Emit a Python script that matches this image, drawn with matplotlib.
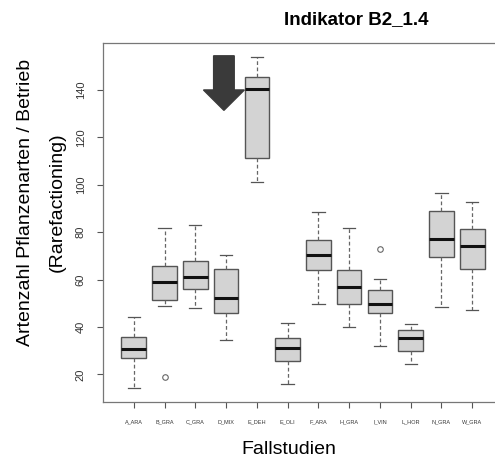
import numpy as np
import matplotlib
matplotlib.use('Agg')
import matplotlib.pyplot as plt

plt.rcParams['font.family'] = ['Liberation Sans', 'DejaVu Sans']

# Fallstudien und Boxplot-Kennwerte
labels = ['A_ARA', 'B_GRA', 'C_GRA', 'D_MIX', 'E_DEH', 'E_OLI',
          'F_ARA', 'H_GRA', 'I_VIN', 'L_HOR', 'N_GRA', 'W_GRA']
whislo = [14.5, 48.8, 48.2, 34.5, 101.1, 15.9, 49.9, 40.0, 31.9, 24.5, 48.4, 47.2]
q1 = [27.1, 51.6, 56.0, 45.8, 111.5, 25.9, 64.2, 49.9, 46.0, 30.0, 69.4, 64.5]
med = [30.9, 58.8, 61.2, 52.2, 140.4, 31.1, 70.2, 56.8, 49.9, 35.2, 77.0, 74.2]
q3 = [35.7, 65.9, 67.8, 64.5, 145.6, 35.2, 76.7, 64.2, 55.6, 38.9, 89.0, 81.4]
whishi = [44.1, 81.8, 83.2, 70.4, 153.7, 41.7, 88.5, 81.7, 60.1, 41.5, 96.4, 92.9]
fliers = [[], [18.9], [], [], [], [], [], [], [73.1], [], [], []]

stats = []
for i in range(len(labels)):
    stats.append({'label': labels[i], 'whislo': whislo[i], 'q1': q1[i], 'med': med[i],
                  'q3': q3[i], 'whishi': whishi[i], 'fliers': fliers[i]})

fig = plt.figure(figsize=(4.95, 4.62), dpi=100)
ax = fig.add_axes([103/495, 60/462, 400/495, 359/462])

pos = np.arange(1, len(labels)+1)
ax.bxp(stats, positions=pos, widths=0.8, patch_artist=True,
       boxprops=dict(facecolor='#d3d3d3', edgecolor='#555555', linewidth=1.0),
       medianprops=dict(color='#111111', linewidth=2.2),
       whiskerprops=dict(color='#666666', linestyle=(0, (3, 2)), linewidth=0.9),
       capprops=dict(color='#555555', linewidth=0.9),
       flierprops=dict(marker='o', markersize=4, markerfacecolor='none',
                       markeredgecolor='#666666', markeredgewidth=0.8))

# Pfeil auf E_DEH
ax.arrow(3.93, 154.4, 0, -14.4, width=0.67, head_width=1.33, head_length=8.6,
         length_includes_head=False, color='#3a3a3a', zorder=5)

ax.set_xlim(0, 13)
ax.set_ylim(8.4, 159.8)
ax.set_xticks(pos)
ax.set_xticklabels(labels, fontsize=4, color='#333333')
ax.set_yticks([20, 40, 60, 80, 100, 120, 140])
ax.set_yticklabels(['20', '40', '60', '80', '100', '120', '140'], fontsize=8,
                   rotation=90, va='center', color='#333333')
ax.tick_params(axis='both', direction='out', length=4.5, color='#555555', width=0.8)
ax.tick_params(axis='x', pad=8)
ax.tick_params(axis='y', pad=8)
for s in ax.spines.values():
    s.set_color('#777777')
    s.set_linewidth(0.9)

fig.text(289/495, 1 - 450/462, 'Fallstudien', ha='center', va='center', fontsize=14)
fig.text(356/495, 1 - 20/462, 'Indikator B2_1.4', ha='center', va='center',
         fontsize=13.5, fontweight='bold')
fig.text(26/495, 1 - 202/462, 'Artenzahl Pflanzenarten / Betrieb', rotation=90,
         ha='center', va='center', fontsize=14)
fig.text(57/495, 1 - 202/462, '(Rarefactioning)', rotation=90,
         ha='center', va='center', fontsize=14)

fig.savefig('out.png', dpi=100)
